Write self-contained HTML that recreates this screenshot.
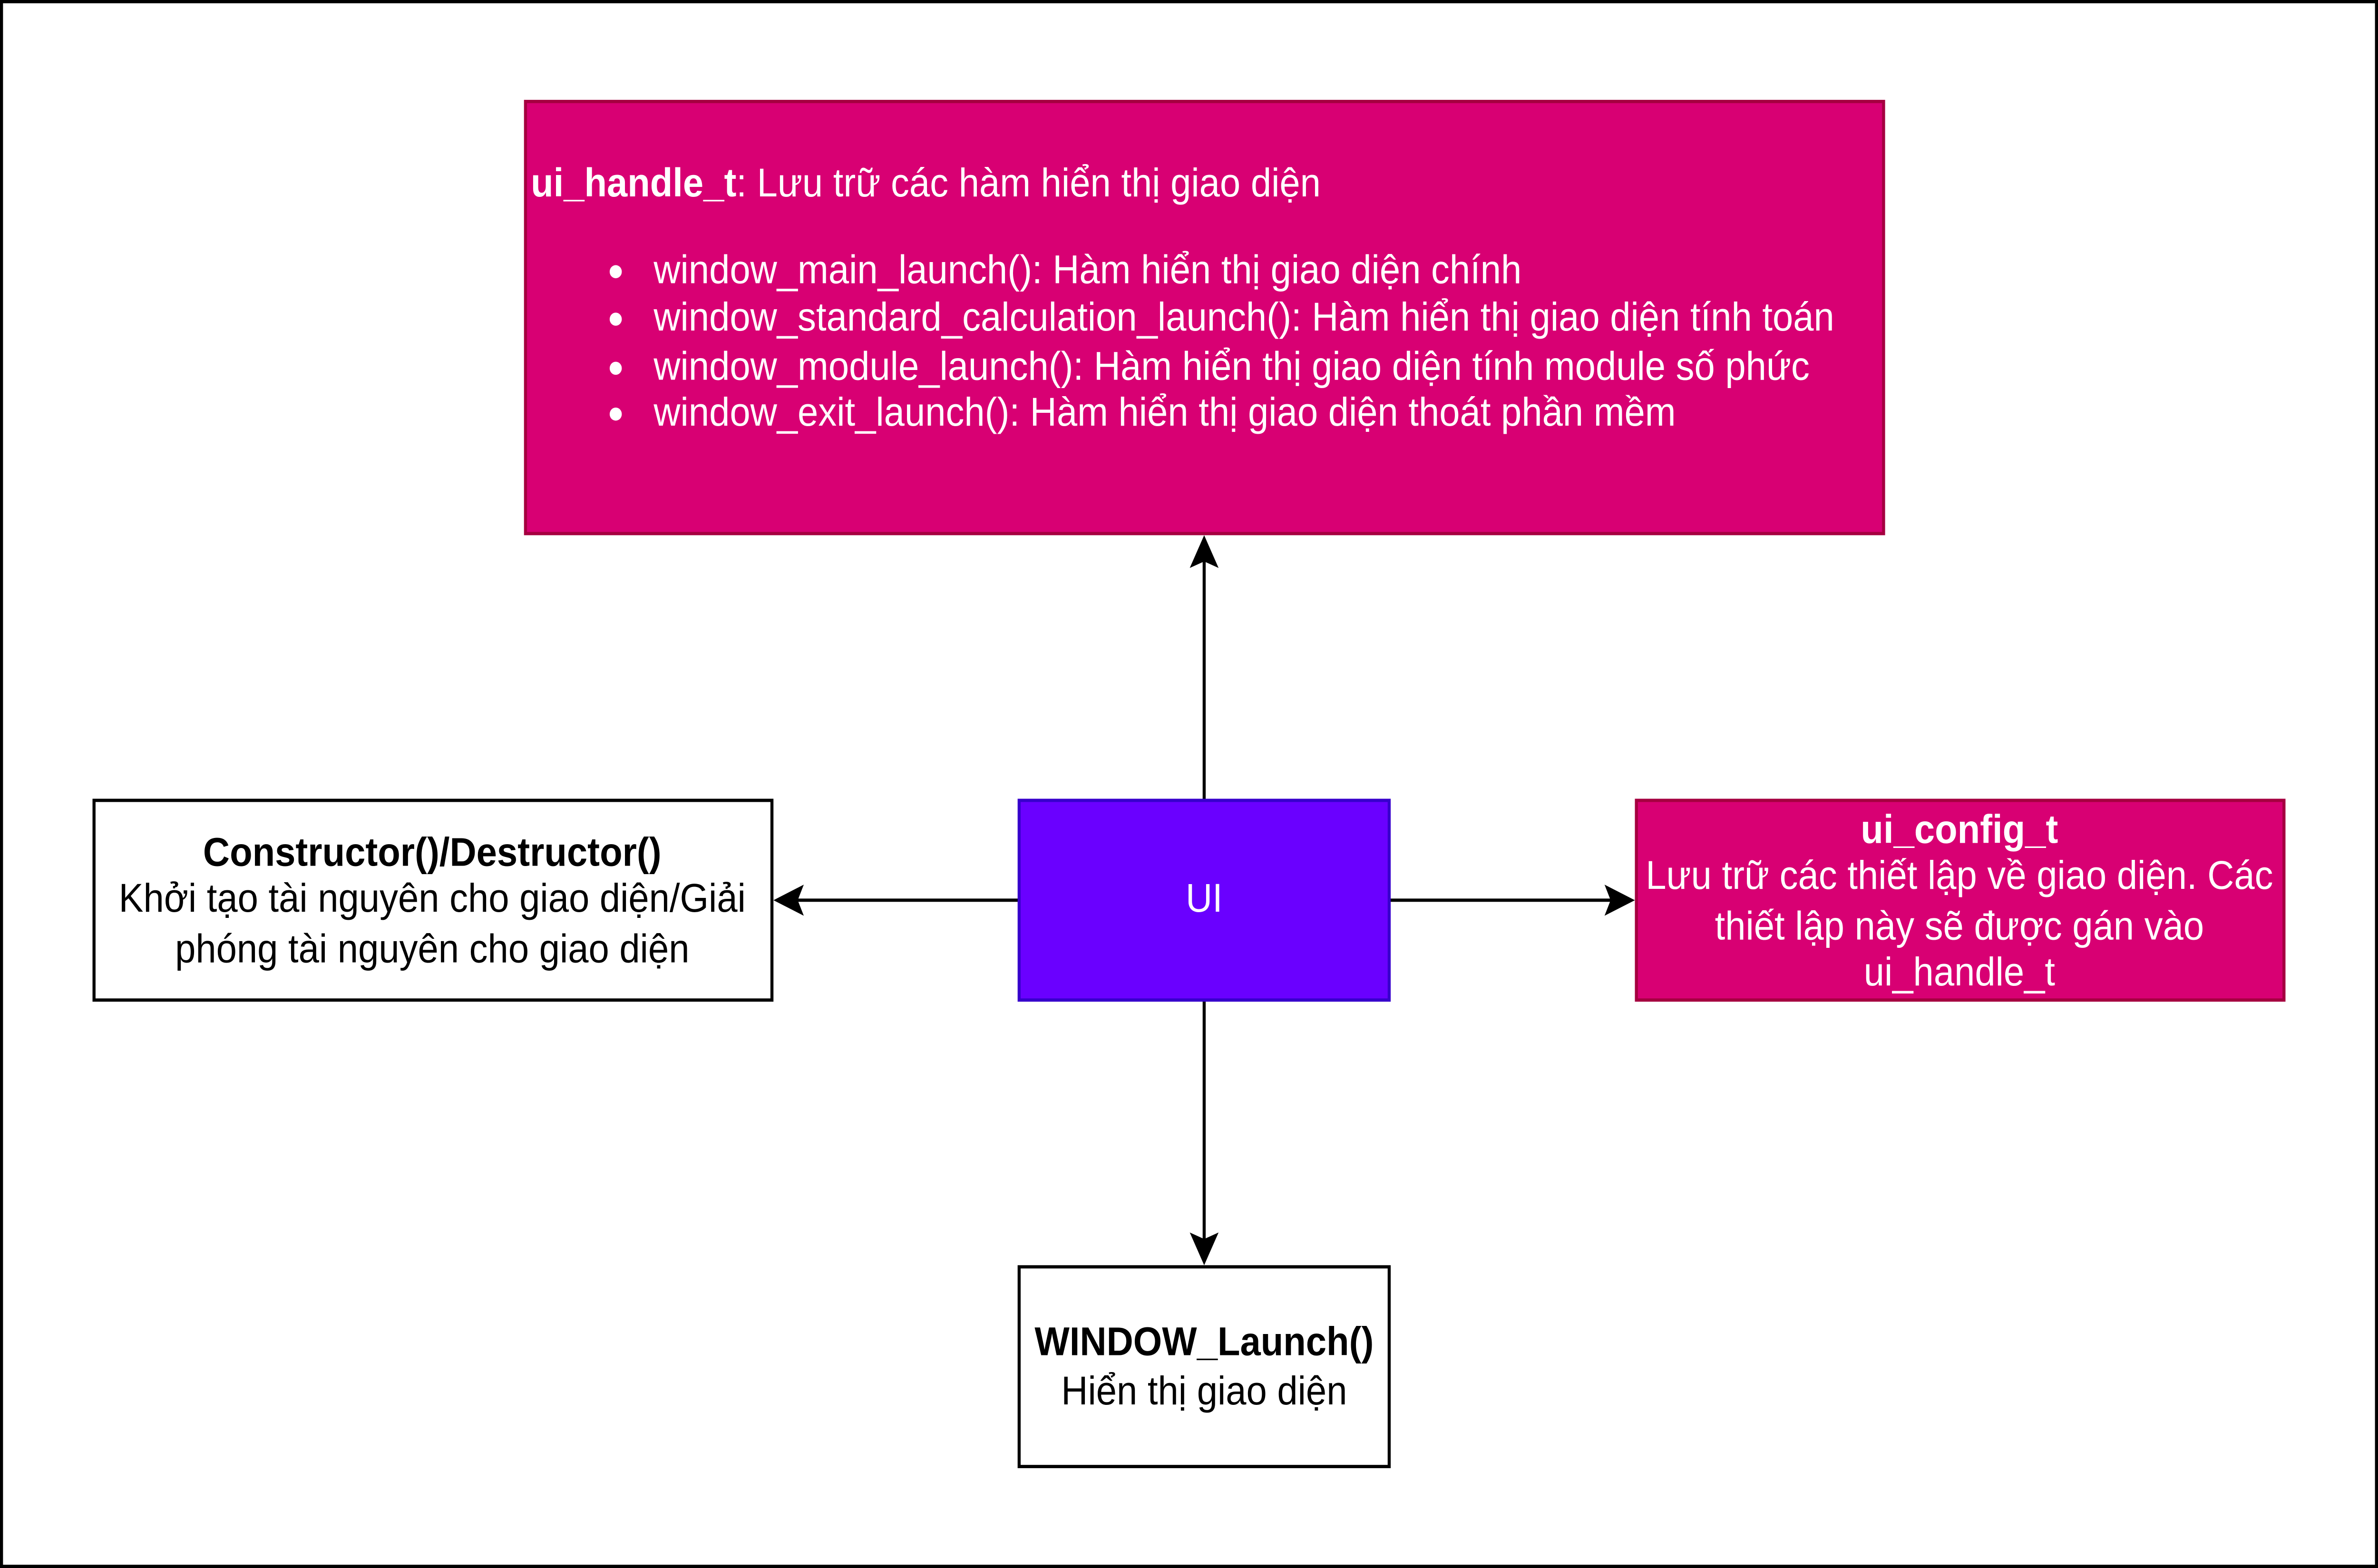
<!DOCTYPE html>
<html><head><meta charset="utf-8"><style>
html,body{margin:0;padding:0;background:#fff;width:100%;height:100%;overflow:hidden;}
svg{display:block;position:absolute;left:0;top:0;width:100vw;height:100vh;}
text{font-family:"Liberation Sans",Arial,sans-serif;font-size:24.4px;}
</style></head><body>
<svg viewBox="0 0 1568 958" preserveAspectRatio="none" xmlns="http://www.w3.org/2000/svg">
<rect x="1" y="1" width="1566" height="956" fill="#fff" stroke="#000" stroke-width="2"/>
<g stroke="#000" stroke-width="2" fill="none">
<line x1="794" y1="489" x2="794" y2="340"/>
<line x1="672" y1="550" x2="523" y2="550"/>
<line x1="916" y1="550" x2="1065" y2="550"/>
<line x1="794" y1="611" x2="794" y2="760"/>
</g>
<g fill="#000">
<polygon points="794,327 803.5,347 794,343 784.5,347"/>
<polygon points="510,550 530,540.5 526,550 530,559.5"/>
<polygon points="1078,550 1058,540.5 1062,550 1058,559.5"/>
<polygon points="794,773 803.5,753 794,757 784.5,753"/>
</g>
<rect x="346.5" y="62" width="895.5" height="264" fill="#d80073" stroke="#a50040" stroke-width="2"/>
<g fill="#fff">
<text x="350" y="120"><tspan font-weight="bold">ui_handle_t</tspan>: Lưu trữ các hàm hiển thị giao diện</text>
<circle cx="406" cy="166" r="4"/><circle cx="406" cy="195" r="4"/><circle cx="406" cy="225" r="4"/><circle cx="406" cy="253" r="4"/>
<text x="431" y="173">window_main_launch(): Hàm hiển thị giao diện chính</text>
<text x="431" y="202">window_standard_calculation_launch(): Hàm hiển thị giao diện tính toán</text>
<text x="431" y="232">window_module_launch(): Hàm hiển thị giao diện tính module số phức</text>
<text x="431" y="260">window_exit_launch(): Hàm hiển thị giao diện thoát phần mềm</text>
</g>
<rect x="672" y="489" width="244" height="122" fill="#6a00ff" stroke="#3700cc" stroke-width="2"/>
<text x="794" y="557" fill="#fff" text-anchor="middle">UI</text>
<rect x="62" y="489" width="447" height="122" fill="#fff" stroke="#000" stroke-width="2"/>
<g text-anchor="middle" fill="#000">
<text x="285" y="529" font-weight="bold">Constructor()/Destructor()</text>
<text x="285" y="557">Khởi tạo tài nguyên cho giao diện/Giải</text>
<text x="285" y="588">phóng tài nguyên cho giao diện</text>
</g>
<rect x="1079" y="489" width="427" height="122" fill="#d80073" stroke="#a50040" stroke-width="2"/>
<g text-anchor="middle" fill="#fff">
<text x="1292" y="515" font-weight="bold">ui_config_t</text>
<text x="1292" y="543">Lưu trữ các thiết lập về giao diện. Các</text>
<text x="1292" y="574">thiết lập này sẽ được gán vào</text>
<text x="1292" y="602">ui_handle_t</text>
</g>
<rect x="672" y="774" width="244" height="122" fill="#fff" stroke="#000" stroke-width="2"/>
<g text-anchor="middle" fill="#000">
<text x="794" y="828" font-weight="bold">WINDOW_Launch()</text>
<text x="794" y="858">Hiển thị giao diện</text>
</g>
</svg>
</body></html>
